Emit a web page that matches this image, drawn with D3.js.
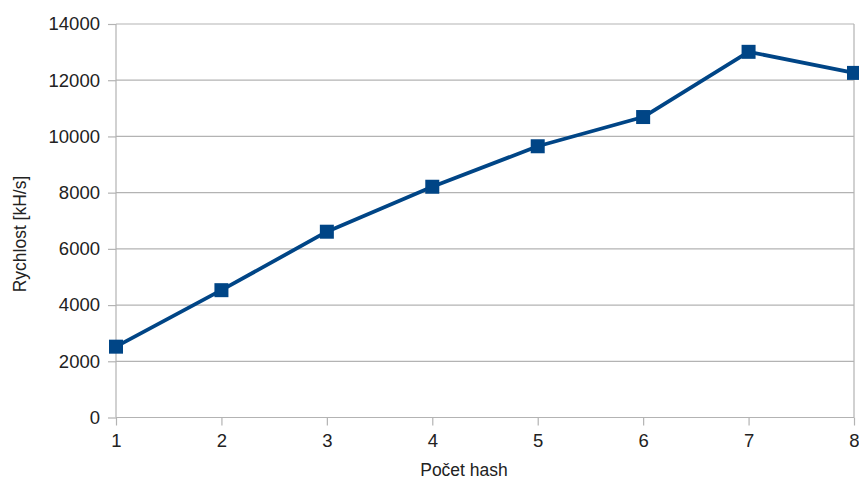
<!DOCTYPE html>
<html>
<head>
<meta charset="utf-8">
<script src="https://cdn.jsdelivr.net/npm/d3@7"></script>
<style>
  body { margin: 0; background: #fff; }
  svg text { font-family: "Liberation Sans", Arial, sans-serif; fill: #222; }
</style>
</head>
<body>
<svg id="chart" width="859" height="481"></svg>
<script>
// Hash count on the x axis, speed in kH/s on the y axis
const hashCounts = [1, 2, 3, 4, 5, 6, 7, 8];
const speeds = [2520, 4530, 6610, 8210, 9650, 10690, 13010, 12260];
const yTicks = [0, 2000, 4000, 6000, 8000, 10000, 12000, 14000];
const xLabel = "Počet hash";
const yLabel = "Rychlost [kH/s]";

const svg = d3.select("#chart");
const margin = { left: 116, right: 5, top: 24, bottom: 63.5 };
const W = 859, H = 481;

const x = d3.scaleLinear().domain([1, 8]).range([margin.left, W - margin.right]);
const y = d3.scaleLinear().domain([0, 14000]).range([H - margin.bottom, margin.top]);

const grid = "#b3b3b3";
const tickFont = 18.5;

// horizontal gridlines
svg.append("g").selectAll("line").data(yTicks).join("line")
  .attr("x1", margin.left).attr("x2", W - margin.right)
  .attr("y1", d => y(d)).attr("y2", d => y(d))
  .attr("stroke", grid).attr("stroke-width", 1.2);

// right frame edge
svg.append("line")
  .attr("x1", x(8)).attr("x2", x(8))
  .attr("y1", y(14000)).attr("y2", y(0))
  .attr("stroke", grid).attr("stroke-width", 1.2);

// y axis
const yAxis = d3.axisLeft(y).tickValues(yTicks).tickSize(8).tickPadding(8).tickFormat(d3.format("d"));
const gy = svg.append("g").attr("transform", `translate(${margin.left},0)`).call(yAxis);
gy.select(".domain").attr("stroke", grid).attr("stroke-width", 1.2).attr("d", `M0,${y(14000)}V${y(0)}`);
gy.selectAll(".tick line").attr("stroke", grid).attr("stroke-width", 1.2);
gy.selectAll(".tick text").attr("font-size", tickFont).attr("fill", "#222");

// x axis
const xAxis = d3.axisBottom(x).tickValues(hashCounts).tickSize(8).tickPadding(8).tickFormat(d3.format("d"));
const gx = svg.append("g").attr("transform", `translate(0,${y(0)})`).call(xAxis);
gx.select(".domain").attr("stroke", grid).attr("stroke-width", 1.2).attr("d", `M${x(1)},0H${x(8)}`);
gx.selectAll(".tick line").attr("stroke", grid).attr("stroke-width", 1.2);
gx.selectAll(".tick text").attr("font-size", tickFont).attr("fill", "#222");

// axis titles
svg.append("text").attr("x", 464).attr("y", 476).attr("text-anchor", "middle")
  .attr("font-size", 17.5).text(xLabel);
svg.append("text").attr("transform", `translate(26,234) rotate(-90)`)
  .attr("text-anchor", "middle").attr("font-size", 17.5).text(yLabel);

// series line and markers
const color = "#004586";
const pts = hashCounts.map((h, i) => [h, speeds[i]]);
svg.append("path").datum(pts)
  .attr("fill", "none").attr("stroke", color).attr("stroke-width", 3.8)
  .attr("stroke-linejoin", "round")
  .attr("d", d3.line().x(d => x(d[0])).y(d => y(d[1])));

const ms = 14;
svg.append("g").selectAll("rect").data(pts).join("rect")
  .attr("x", d => x(d[0]) - ms / 2).attr("y", d => y(d[1]) - ms / 2)
  .attr("width", ms).attr("height", ms).attr("fill", color);
</script>
</body>
</html>
